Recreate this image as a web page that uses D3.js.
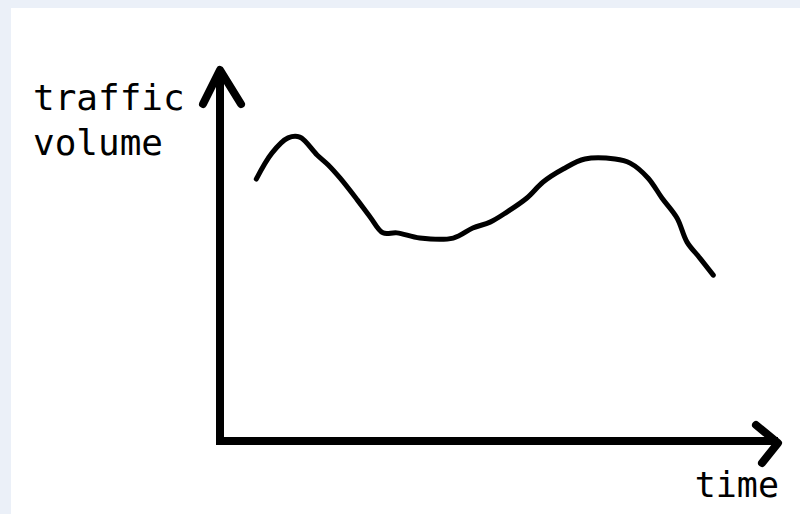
<!DOCTYPE html>
<meta charset="utf-8">
<script src="https://d3js.org/d3.v7.min.js"></script>
<style>
  body { margin: 0; background: #ebf0f8; }
</style>
<div id="my_dataviz"></div>
<script>
// Sketch data: time (0-100) vs traffic volume (0-100)
const time   = [6.5, 9.3, 12.2, 14.3, 17.4, 19.4, 21.5, 24.6, 26.9, 29.2, 31.7, 35.8, 41.8, 45.3, 48.4, 51.4, 55.0, 57.9, 61.5, 65.4, 70.8, 73.5, 76.7, 79.2, 81.9, 83.7, 86.0, 88.4];
const volume = [70.6, 77.6, 81.7, 81.9, 77.1, 74.4, 70.9, 65.0, 60.4, 56.1, 56.1, 54.7, 54.7, 57.4, 59.0, 61.7, 65.5, 69.8, 73.3, 76.0, 76.0, 74.9, 70.9, 65.5, 60.1, 53.6, 49.3, 44.7];
const yLabel = ["traffic", "volume"];
const xLabel = "time";

const width = 800;
const height = 514;

const svg = d3.select("#my_dataviz")
  .append("svg")
    .attr("width", width)
    .attr("height", height)
    .style("display", "block");

// white drawing panel
svg.append("rect")
  .attr("x", 11).attr("y", 8)
  .attr("width", width - 11).attr("height", height - 8)
  .attr("fill", "#ffffff");

const x = d3.scaleLinear().domain([0, 100]).range([220, 778]);
const y = d3.scaleLinear().domain([0, 100]).range([441, 70]);

const x0 = x(0), x1 = x(100), y0 = y(0), y1 = y(100);

// axes (L shape)
svg.append("path")
  .attr("d", `M${x0},${y1} L${x0},${y0} L${x1},${y0}`)
  .attr("fill", "none")
  .attr("stroke", "#000")
  .attr("stroke-width", 8)
  .attr("stroke-linejoin", "miter");

// arrow heads
svg.append("path")
  .attr("d", `M${x0 - 17},${y1 + 34} L${x0},${y1} L${x0 + 21},${y1 + 34}`)
  .attr("fill", "none")
  .attr("stroke", "#000")
  .attr("stroke-width", 8)
  .attr("stroke-linecap", "round")
  .attr("stroke-linejoin", "round");

svg.append("path")
  .attr("d", `M${x1 - 22},${y0 - 16} L${x1},${y0 + 2} L${x1 - 16},${y0 + 22}`)
  .attr("fill", "none")
  .attr("stroke", "#000")
  .attr("stroke-width", 8)
  .attr("stroke-linecap", "round")
  .attr("stroke-linejoin", "round");

// the traffic curve
const data = time.map((t, i) => ({ t: t, v: volume[i] }));
const line = d3.line()
  .x(d => x(d.t))
  .y(d => y(d.v))
  .curve(d3.curveCatmullRom);

svg.append("path")
  .datum(data)
  .attr("d", line)
  .attr("fill", "none")
  .attr("stroke", "#000")
  .attr("stroke-width", 5)
  .attr("stroke-linecap", "round")
  .attr("stroke-linejoin", "round");

// labels
svg.append("text")
  .attr("x", 33)
  .attr("y", 110)
  .style("font-family", "'DejaVu Sans Mono', monospace")
  .style("font-size", "36px")
  .selectAll("tspan")
  .data(yLabel)
  .join("tspan")
    .attr("x", 33)
    .attr("dy", (d, i) => i === 0 ? 0 : 45)
    .text(d => d);

svg.append("text")
  .attr("x", 779)
  .attr("y", 497)
  .attr("text-anchor", "end")
  .style("font-family", "'DejaVu Sans Mono', monospace")
  .style("font-size", "35px")
  .text(xLabel);
</script>
